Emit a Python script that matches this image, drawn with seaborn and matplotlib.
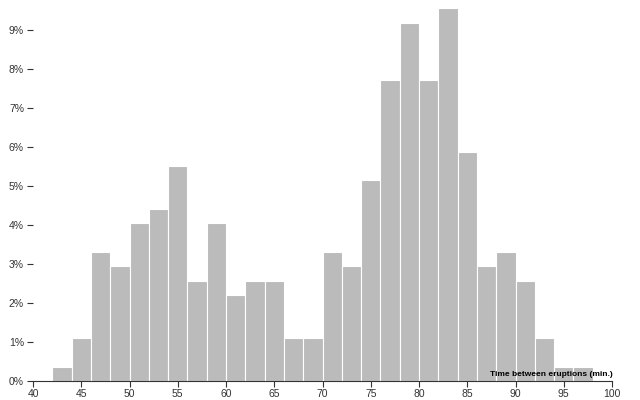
import matplotlib
matplotlib.use("Agg")
import matplotlib.pyplot as plt
import seaborn as sns
import numpy as np
from matplotlib.ticker import FuncFormatter

# Bin edges (minutes) and counts of eruptions (Old Faithful, n=272)
bin_starts = [42, 44, 46, 48, 50, 52, 54, 56, 58, 60, 62, 64, 66, 68,
              70, 72, 74, 76, 78, 80, 82, 84, 86, 88, 90, 92, 94, 96]
counts = [1, 3, 9, 8, 11, 12, 15, 7, 11, 6, 7, 7, 3, 3,
          9, 8, 14, 21, 25, 21, 26, 16, 8, 9, 7, 3, 1, 1]
bin_width = 2
total = sum(counts)
shares = [c / total for c in counts]
x_ticks = [40, 45, 50, 55, 60, 65, 70, 75, 80, 85, 90, 95, 100]
y_ticks = [0, 0.01, 0.02, 0.03, 0.04, 0.05, 0.06, 0.07, 0.08, 0.09]

sns.set_theme(style="white")
plt.rcParams["font.family"] = ["Liberation Sans", "DejaVu Sans"]

fig = plt.figure(figsize=(6.4, 4.0), dpi=100)
ax = fig.add_axes([33 / 640, 19 / 400, (612 - 33) / 640, 381 / 400])

centers = [s + bin_width / 2 for s in bin_starts]
edges = bin_starts + [bin_starts[-1] + bin_width]
sns.histplot(x=centers, weights=shares, bins=edges, ax=ax,
             color="#bbbbbb", edgecolor="white", linewidth=0.8, alpha=1.0)

ax.set_xlim(40, 100)
ax.set_ylim(0, 381 / 39.0 / 100)
ax.set_xticks(x_ticks)
ax.set_yticks(y_ticks)
ax.yaxis.set_major_formatter(FuncFormatter(lambda v, p: f"{round(v * 100)}%"))
ax.set_xlabel("")
ax.set_ylabel("")

for side in ["top", "right", "left"]:
    ax.spines[side].set_visible(False)
ax.spines["bottom"].set_color("#333333")
ax.spines["bottom"].set_linewidth(0.8)
ax.tick_params(axis="x", which="both", bottom=True, length=4, width=0.8,
               color="#333333", labelsize=7.5, labelcolor="#333333", pad=2)
ax.tick_params(axis="y", which="both", left=True, length=4.5, width=0.8,
               color="#333333", labelsize=7.5, labelcolor="#333333", pad=2)
ax.grid(False)

ax.text(100.1, 0.0008, "Time between eruptions (min.)",
        ha="right", va="bottom", fontsize=6, fontweight="bold", color="black")

fig.savefig("out.png", dpi=100)
